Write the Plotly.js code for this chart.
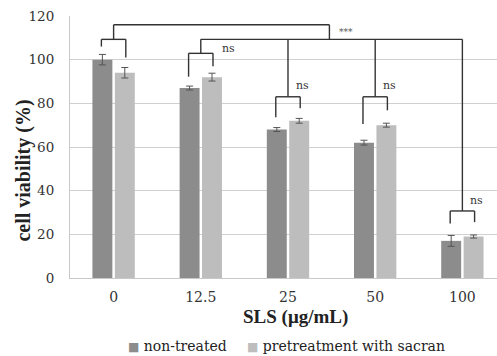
<!DOCTYPE html>
<html>
<head>
<meta charset="utf-8">
<script src="https://cdn.plot.ly/plotly-3.0.1.min.js"></script>
<style>html,body{margin:0;padding:0;background:#fff;}#chart{width:497px;height:356px;}</style>
</head>
<body>
<div id="chart"></div>
<script>
const categories = ['0', '12.5', '25', '50', '100'];
const nonTreated = [100, 87, 68, 62, 17];
const nonTreatedErr = [2.4, 0.9, 0.9, 1.1, 2.5];
const sacran = [94, 92, 72, 70, 19];
const sacranErr = [2.4, 1.8, 1.1, 0.9, 0.7];
const seriesNames = ['non-treated', 'pretreatment with sacran'];
const seriesColors = ['#8c8c8c', '#bdbdbd'];

// significance brackets (values in % units)
const pairTop = [109.3, 102.9, 83, 83, 30.7];
const pairLeftEnd = [106, 92.2, 73.6, 70.5, 25];
const pairRightEnd = [101, 97, 77.7, 76.8, 25.6];
const pairLabels = ['', 'ns', 'ns', 'ns', 'ns'];
const pairLabelY = [0, 105, 88, 88, 35.7];
const mainTop = 116;
const mainLevel = 109.3;
const mainLabel = '***';
const mainLabelY = 112.9;

const lc = '#333333';
const shapes = [];
const annotations = [];
function seg(x0, y0, x1, y1) {
  shapes.push({type: 'line', xref: 'x', yref: 'y', x0: x0, y0: y0, x1: x1, y1: y1,
    line: {color: lc, width: 1.4}});
}
const off = 0.14;
categories.forEach((c, i) => {
  seg(i - off, pairLeftEnd[i], i - off, pairTop[i]);
  seg(i + off, pairRightEnd[i], i + off, pairTop[i]);
  seg(i - off, pairTop[i], i + off, pairTop[i]);
  if (i === 0) {
    seg(i, pairTop[i], i, mainTop);
  } else {
    seg(i, pairTop[i], i, mainLevel);
  }
  if (pairLabels[i]) {
    annotations.push({xref: 'x', yref: 'y', x: i + (i === 1 ? 0.225 : 0.065), y: pairLabelY[i],
      text: pairLabels[i], showarrow: false, xanchor: 'left', yanchor: 'middle',
      font: {family: 'DejaVu Serif', size: 11, color: '#333'}});
  }
});
const mainRight = 2.475;
seg(0, mainTop, mainRight, mainTop);
seg(mainRight, mainTop, mainRight, mainLevel);
seg(1, mainLevel, 4, mainLevel);
annotations.push({xref: 'x', yref: 'y', x: 2.56, y: mainLabelY, text: mainLabel, showarrow: false,
  xanchor: 'left', yanchor: 'middle', font: {family: 'DejaVu Serif', size: 9, color: '#555'}});

// axis titles
annotations.push({xref: 'paper', yref: 'paper', x: 0.529, y: -0.147, xanchor: 'center', yanchor: 'middle',
  text: '<b>SLS (μg/mL)</b>', showarrow: false,
  font: {family: 'Liberation Serif', size: 19, color: '#222'}});
annotations.push({xref: 'paper', yref: 'paper', x: -0.1077, y: 0.41, xanchor: 'center', yanchor: 'middle',
  textangle: -90, text: '<b>cell viability (%)</b>', showarrow: false,
  font: {family: 'Liberation Serif', size: 20, color: '#222'}});

// legend entries
const legendX = [0.131, 0.41];
seriesNames.forEach((n, k) => {
  annotations.push({xref: 'paper', yref: 'paper', x: legendX[k], y: -0.2595, xanchor: 'left', yanchor: 'middle',
    showarrow: false,
    text: '<span style="color:' + seriesColors[k] + ';font-size:12px">■</span> ' + n,
    font: {family: 'DejaVu Serif', size: 14, color: '#222'}});
});

const data = [
  {type: 'bar', name: seriesNames[0], x: categories, y: nonTreated,
   marker: {color: seriesColors[0]},
   error_y: {type: 'data', array: nonTreatedErr, visible: true, color: '#555', thickness: 1, width: 3.5}},
  {type: 'bar', name: seriesNames[1], x: categories, y: sacran,
   marker: {color: seriesColors[1]},
   error_y: {type: 'data', array: sacranErr, visible: true, color: '#555', thickness: 1, width: 3.5}}
];

const layout = {
  width: 497, height: 356,
  margin: {l: 70, r: 0, t: 16, b: 78},
  paper_bgcolor: '#fff', plot_bgcolor: '#fff',
  barmode: 'group', bargap: 0.486, bargroupgap: 0.11,
  font: {family: 'DejaVu Serif', color: '#333'},
  showlegend: false,
  xaxis: {type: 'category', range: [-0.5, 4.397], showgrid: false, showline: true, linecolor: '#c8c8c8', linewidth: 1,
    ticks: '', ticklabelstandoff: 6, tickfont: {family: 'DejaVu Serif', size: 14, color: '#333'},
    automargin: false, fixedrange: true},
  yaxis: {range: [0, 120], dtick: 20, showgrid: true, gridcolor: '#d0d0d0', gridwidth: 1,
    showline: true, linecolor: '#c8c8c8', zeroline: false, ticks: '', ticklabelstandoff: 12,
    tickfont: {family: 'DejaVu Serif', size: 13.5, color: '#333'},
    automargin: false, fixedrange: true},
  shapes: shapes,
  annotations: annotations
};

Plotly.newPlot('chart', data, layout, {staticPlot: true, displayModeBar: false});
</script>
</body>
</html>
